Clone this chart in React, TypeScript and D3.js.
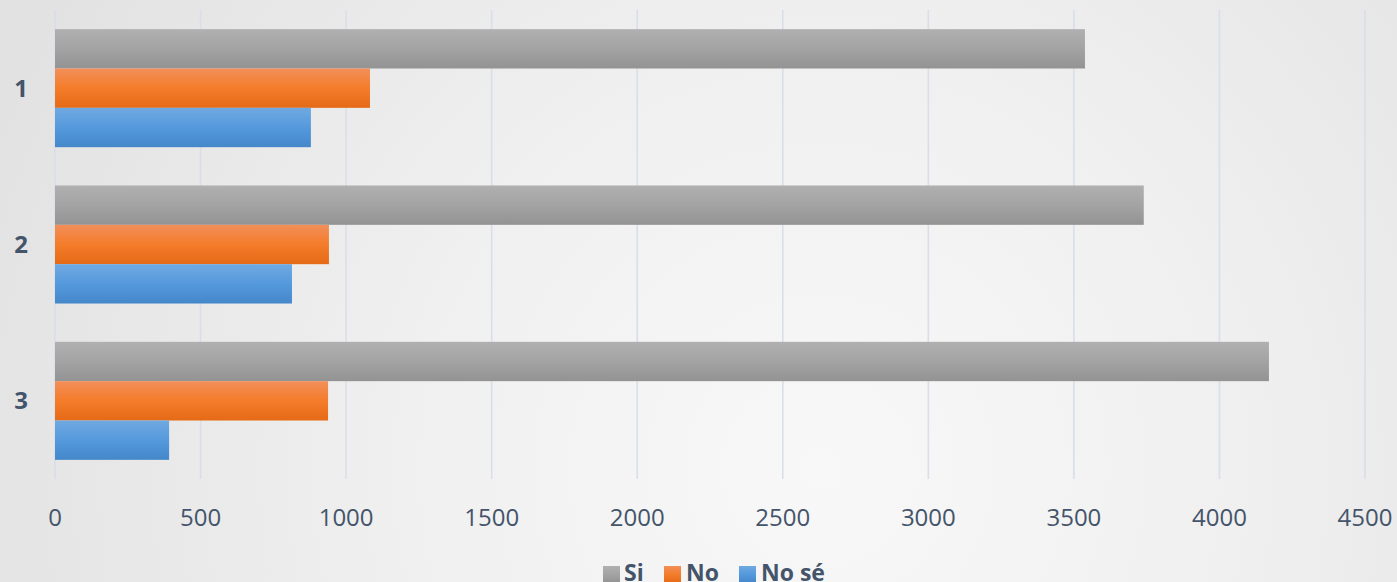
import React from "react";
import * as d3 from "d3";

const categories = ["1", "2", "3"];
const seriesNames = ["Si", "No", "No sé"];
const siValues = [3538, 3740, 4170];
const noValues = [1082, 941, 938];
const noSeValues = [879, 814, 392];
const xTicks = [0, 500, 1000, 1500, 2000, 2500, 3000, 3500, 4000, 4500];

const W = 1397;
const H = 582;
const margin = { left: 55, right: 32, top: 10, bottom: 103 };
const textColor = "#44546A";
const font = "'Open Sans', 'DejaVu Sans', sans-serif";

const gradients = [
  { id: "gSi", stops: ["#b0b0b0", "#a3a3a3", "#939393"] },
  { id: "gNo", stops: ["#f28f5a", "#f47c2a", "#e56a16"] },
  { id: "gNoSe", stops: ["#70a9e1", "#5599dd", "#4488ca"] },
];

export default function App() {
  const x = d3
    .scaleLinear()
    .domain([0, 4500])
    .range([margin.left, W - margin.right]);
  const y0 = d3
    .scaleBand<string>()
    .domain(categories)
    .range([margin.top, H - margin.bottom])
    .paddingInner(0.245)
    .paddingOuter(0.1225);
  const y1 = d3
    .scaleBand<string>()
    .domain(seriesNames)
    .range([0, y0.bandwidth()]);

  const data = [siValues, noValues, noSeValues];

  const legendItems = [
    { name: seriesNames[0], sq: 603, tx: 624, g: "gSi" },
    { name: seriesNames[1], sq: 664, tx: 686, g: "gNo" },
    { name: seriesNames[2], sq: 739, tx: 761, g: "gNoSe" },
  ];

  return (
    <svg
      width={W}
      height={H}
      style={{ position: "absolute", left: 0, top: 0 }}
    >
      <defs>
        <radialGradient
          id="bg"
          gradientUnits="userSpaceOnUse"
          cx={820}
          cy={470}
          r={900}
        >
          <stop offset="0" stopColor="#f8f8f8" />
          <stop offset="0.45" stopColor="#f0f0f0" />
          <stop offset="1" stopColor="#e2e2e2" />
        </radialGradient>
        {gradients.map((g) => (
          <linearGradient key={g.id} id={g.id} x1="0" y1="0" x2="0" y2="1">
            <stop offset="0" stopColor={g.stops[0]} />
            <stop offset="0.5" stopColor={g.stops[1]} />
            <stop offset="1" stopColor={g.stops[2]} />
          </linearGradient>
        ))}
      </defs>
      <rect x={0} y={0} width={W} height={H} fill="url(#bg)" />
      {xTicks.map((t) => (
        <line
          key={"g" + t}
          x1={x(t)}
          x2={x(t)}
          y1={margin.top}
          y2={H - margin.bottom}
          stroke="#d9dee8"
          strokeWidth={1.6}
        />
      ))}
      {categories.map((c, ci) => (
        <g key={c} transform={`translate(0,${y0(c)})`}>
          {seriesNames.map((s, si) => (
            <rect
              key={s}
              x={x(0)}
              y={y1(s)}
              width={x(data[si][ci]) - x(0)}
              height={y1.bandwidth()}
              fill={`url(#${gradients[si].id})`}
            />
          ))}
          <text
            x={21}
            y={y0.bandwidth() / 2}
            dy="0.35em"
            textAnchor="middle"
            fontFamily={font}
            fontWeight="bold"
            fontSize={24}
            fill={textColor}
          >
            {c}
          </text>
        </g>
      ))}
      {xTicks.map((t) => (
        <text
          key={"t" + t}
          x={x(t)}
          y={526}
          textAnchor="middle"
          fontFamily={font}
          fontSize={24}
          fill={textColor}
        >
          {t}
        </text>
      ))}
      {legendItems.map((l) => (
        <g key={l.name}>
          <rect x={l.sq} y={566} width={17} height={17} fill={`url(#${l.g})`} />
          <text
            x={l.tx}
            y={581}
            fontFamily={font}
            fontWeight="bold"
            fontSize={23}
            fill={textColor}
          >
            {l.name}
          </text>
        </g>
      ))}
    </svg>
  );
}
